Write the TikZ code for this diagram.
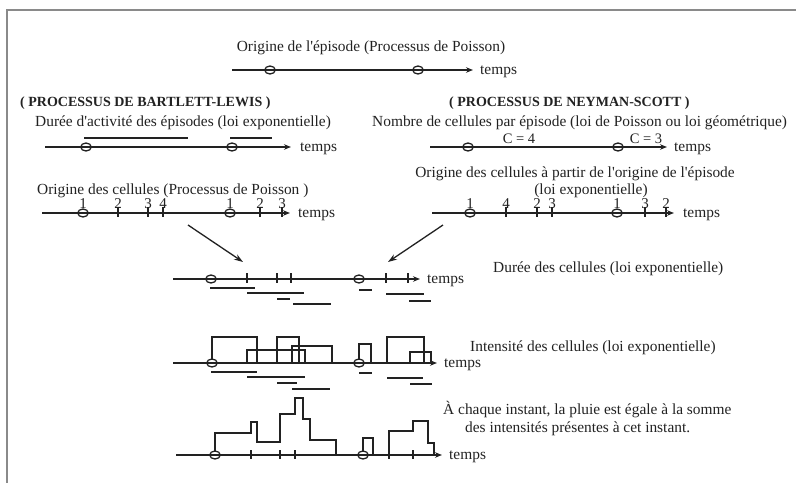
\documentclass[tikz,border=0pt]{standalone}
\usepackage{fontspec}
\setmainfont{Liberation Serif}[Ligatures=TeXOff]
\usetikzlibrary{arrows.meta,shapes.geometric}
\definecolor{ink}{HTML}{222222}
\definecolor{framec}{HTML}{8A8A8A}
\begin{document}
\begin{tikzpicture}[x=1pt,y=-1pt,
 tline/.style={draw=ink,line width=1.3pt,-{Stealth[length=7pt,width=5.5pt]}},
 bar/.style={draw=ink,line width=1.3pt},
 epi/.style={ellipse,draw=ink,line width=1.3pt,minimum width=10.5pt,minimum height=8pt,inner sep=0pt},
 lbl/.style={text=ink,inner sep=0pt,anchor=base,font=\fontsize{15.4}{18}\selectfont},
 lblw/.style={lbl,anchor=base west},
 ttl/.style={text=ink,inner sep=0pt,anchor=base west,font=\fontsize{14}{16}\selectfont\bfseries},
 num/.style={text=ink,inner sep=0pt,anchor=base,font=\fontsize{15}{17}\selectfont},
 cnum/.style={num,font=\fontsize{14.5}{17}\selectfont},
 bigarrow/.style={draw=ink,line width=1.3pt,-{Stealth[length=9pt,width=6pt]}},
]
\useasboundingbox (0,0) rectangle (796,483);
\fill[white] (0,0) rectangle (796,483);
\draw[framec,line width=1.6pt] (796,10) -- (7,10) -- (7,483);

% ---------- top: episode origins
\node[lbl] (t0) at (371,51) {Origine de l'épisode (Processus de Poisson)};
\coordinate (a0) at (232,70); \coordinate (a1) at (473,70);
\draw[tline] (a0) -- (a1);
\node[epi] (ae1) at (270,70) {}; \node[epi] (ae2) at (418,70) {};
\node[lblw] (atmp) at (480,74) {temps};

% ---------- titles
\node[ttl] (tl) at (20,106) {( PROCESSUS DE BARTLETT-LEWIS )};
\node[ttl] (tr) at (449,106) {( PROCESSUS DE NEYMAN-SCOTT )};

% ---------- left: episode durations
\node[lblw] (dl) at (35,126.5) {Durée d'activité des épisodes (loi exponentielle)};
\coordinate (b0) at (45,147); \coordinate (b1) at (291,147);
\draw[tline] (b0) -- (b1);
\node[epi] (be1) at (86,147) {}; \node[epi] (be2) at (232,147) {};
\draw[bar] (84,138) -- (188,138);
\draw[bar] (230,138) -- (272,138);
\node[lblw] (btmp) at (300,151) {temps};

% ---------- right: number of cells
\node[lblw] (nr) at (372,126.5) {Nombre de cellules par épisode (loi de Poisson ou loi géométrique)};
\coordinate (c0) at (430,147); \coordinate (c1) at (667,147);
\draw[tline] (c0) -- (c1);
\node[epi] (ce1) at (468,147) {}; \node[epi] (ce2) at (618,147) {};
\node[cnum] (c4) at (519,143.5) {C = 4};
\node[cnum] (c3) at (646,143.5) {C = 3};
\node[lblw] (ctmp) at (674,151) {temps};

% ---------- left: cell origins
\node[lblw] (ol) at (37,194) {Origine des cellules (Processus de Poisson )};
\coordinate (d0) at (42,213); \coordinate (d1) at (290,213);
\draw[tline] (d0) -- (d1);
\node[epi] (de1) at (83,213) {}; \node[epi] (de2) at (230,213) {};
\foreach \x in {118,148,163,260,282} \draw[bar] (\x,207) -- (\x,217);
\foreach \x/\t in {83/1,118/2,148/3,163/4,230/1,260/2,282/3} \node[num] at (\x,208) {\t};
\node[lblw] (dtmp) at (298,217) {temps};

% ---------- right: cell origins
\node[lbl] (or1) at (575,177) {Origine des cellules à partir de l'origine de l'épisode};
\node[lbl] (or2) at (591,194) {(loi exponentielle)};
\coordinate (e0) at (432,213); \coordinate (e1) at (674,213);
\draw[tline] (e0) -- (e1);
\node[epi] (ee1) at (470,213) {}; \node[epi] (ee2) at (617,213) {};
\foreach \x in {506,537,552,645,666} \draw[bar] (\x,207) -- (\x,217);
\foreach \x/\t in {470/1,506/4,537/2,552/3,617/1,645/3,666/2} \node[num] at (\x,208) {\t};
\node[lblw] (etmp) at (683,217) {temps};

% ---------- converging arrows
\coordinate (la0) at (188,225); \coordinate (la1) at (243,262);
\coordinate (ra0) at (443,225); \coordinate (ra1) at (388,262);
\draw[bigarrow] (la0) -- (la1);
\draw[bigarrow] (ra0) -- (ra1);

% ---------- cell durations
\node[lblw] (dc) at (493,272) {Durée des cellules (loi exponentielle)};
\coordinate (f0) at (173,279); \coordinate (f1) at (420,279);
\draw[tline] (f0) -- (f1);
\node[epi] (fe1) at (211,279) {}; \node[epi] (fe2) at (359,279) {};
\foreach \x in {247,277,291,386,408} \draw[bar] (\x,273) -- (\x,283);
\draw[bar] (210,288) -- (255,288);
\draw[bar] (247,293) -- (304,293);
\draw[bar] (277,299) -- (290,299);
\draw[bar] (293,304) -- (331,304);
\draw[bar] (359,290) -- (372,290);
\draw[bar] (386,294) -- (424,294);
\draw[bar] (409,301) -- (431,301);
\node[lblw] (ftmp) at (427,283) {temps};

% ---------- cell intensities
\node[lblw] (ic) at (470,351) {Intensité des cellules (loi exponentielle)};
\coordinate (g0) at (173,363); \coordinate (g1) at (437,363);
\draw[tline] (g0) -- (g1);
\draw[bar] (212,363) -- (212,337) -- (257,337) -- (257,363);
\draw[bar] (247,363) -- (247,350) -- (305,350) -- (305,363);
\draw[bar] (277,363) -- (277,337) -- (299,337) -- (299,363);
\draw[bar] (292,363) -- (292,346) -- (332,346) -- (332,363);
\draw[bar] (359,363) -- (359,344) -- (371,344) -- (371,363);
\draw[bar] (387,363) -- (387,337) -- (424,337) -- (424,363);
\draw[bar] (410,363) -- (410,352) -- (431,352) -- (431,363);
\node[epi,fill=white] (ge1) at (212,363) {}; \node[epi,fill=white] (ge2) at (359,363) {};
\draw[ink,line width=1.3pt] (ge1.west) -- (ge1.east) (ge2.west) -- (ge2.east);
\draw[bar] (211,372) -- (257,372);
\draw[bar] (247,377) -- (305,377);
\draw[bar] (277,383) -- (297,383);
\draw[bar] (292,389) -- (330,389);
\draw[bar] (359,373) -- (372,373);
\draw[bar] (387,378) -- (423,378);
\draw[bar] (410,384) -- (432,384);
\node[lblw] (gtmp) at (444,367) {temps};

% ---------- rain
\node[lblw] (r1) at (443,414) {À chaque instant, la pluie est égale à la somme};
\node[lblw] (r2) at (465,432) {des intensités présentes à cet instant.};
\coordinate (h0) at (176,455); \coordinate (h1) at (442,455);
\draw[tline] (h0) -- (h1);
\foreach \x in {251,280,295,389,413} \draw[bar] (\x,450) -- (\x,459);
\draw[bar] (215,455) -- (215,433) -- (251,433) -- (251,422) -- (257,422) -- (257,442)
  -- (280,442) -- (280,414) -- (295,414) -- (295,398) -- (303,398) -- (303,419)
  -- (310,419) -- (310,440) -- (336,440) -- (336,455);
\draw[bar] (363,455) -- (363,438) -- (373,438) -- (373,455);
\draw[bar] (389,455) -- (389,431) -- (413,431) -- (413,421) -- (428,421) -- (428,443)
  -- (434,443) -- (434,455);
\node[epi,fill=white] (he1) at (215,455) {}; \node[epi,fill=white] (he2) at (363,455) {};
\draw[ink,line width=1.3pt] (he1.west) -- (he1.east) (he2.west) -- (he2.east);
\node[lblw] (htmp) at (449,459) {temps};
\end{tikzpicture}
\end{document}
